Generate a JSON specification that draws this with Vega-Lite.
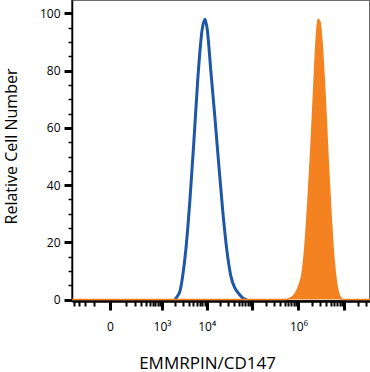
{
  "$schema": "https://vega.github.io/schema/vega-lite/v6.json",
  "width": 298,
  "height": 301,
  "autosize": "none",
  "padding": {"left": 72, "top": 0, "right": 0, "bottom": 71},
  "background": "white",
  "config": {
    "view": {"stroke": "#6b6b6b", "strokeWidth": 2},
    "font": "Open Sans",
    "axis": {"grid": false, "domainColor": "black", "tickColor": "black", "labelColor": "black", "titleColor": "black", "titleFontWeight": "normal", "labelFont": "Open Sans", "titleFont": "Open Sans", "tickOpacity": 1, "domainOpacity": 1}
  },
  "datasets": {
    "blue": [
      {"x": 1990, "y": 0}, {"x": 2210, "y": 1}, {"x": 2580, "y": 3}, {"x": 3010, "y": 9},
      {"x": 3510, "y": 18}, {"x": 4300, "y": 35}, {"x": 5280, "y": 56}, {"x": 6460, "y": 78},
      {"x": 7920, "y": 94}, {"x": 9210, "y": 98}, {"x": 10200, "y": 95}, {"x": 12500, "y": 79},
      {"x": 15300, "y": 63}, {"x": 18700, "y": 46}, {"x": 22800, "y": 30}, {"x": 27800, "y": 17},
      {"x": 34050, "y": 8}, {"x": 41600, "y": 4}, {"x": 50900, "y": 2}, {"x": 62200, "y": 0.5},
      {"x": 76000, "y": 0}
    ],
    "orange": [
      {"x": -456, "y": 0}, {"x": 509000, "y": 0}, {"x": 654700, "y": 0.5}, {"x": 841500, "y": 2},
      {"x": 1028000, "y": 5}, {"x": 1194000, "y": 9}, {"x": 1387000, "y": 19}, {"x": 1611000, "y": 35},
      {"x": 1875000, "y": 54}, {"x": 2178000, "y": 76}, {"x": 2405000, "y": 90}, {"x": 2661000, "y": 98},
      {"x": 2938000, "y": 97}, {"x": 3251000, "y": 90}, {"x": 3777000, "y": 72}, {"x": 4386000, "y": 50},
      {"x": 5094000, "y": 30}, {"x": 5930000, "y": 14}, {"x": 6888000, "y": 5}, {"x": 8000000, "y": 1},
      {"x": 9290000, "y": 0}, {"x": 35900000, "y": 0}
    ]
  },
  "encoding": {
    "x": {
      "field": "x", "type": "quantitative",
      "scale": {"type": "symlog", "constant": 80, "domain": [-456, 35900000], "nice": false},
      "axis": {
        "title": "EMMRPIN/CD147",
        "titleFontSize": 17,
        "titleX": 135, "titleY": 67, "titleBaseline": "alphabetic",
        "domainWidth": 2.5,
        "values": [-400, -300, -200, -100, 0, 100, 200, 300, 400, 500, 600, 700, 800, 900,
          1000, 2000, 3000, 4000, 5000, 6000, 7000, 8000, 9000,
          10000, 20000, 30000, 40000, 50000, 60000, 70000, 80000, 90000,
          100000, 200000, 300000, 400000, 500000, 600000, 700000, 800000, 900000,
          1000000, 2000000, 3000000, 4000000, 5000000, 6000000, 7000000, 8000000, 9000000,
          10000000, 20000000, 30000000],
        "labelExpr": "datum.value == 0 ? '0' : datum.value == 1000 ? '10³' : datum.value == 10000 ? '10⁴' : datum.value == 1000000 ? '10⁶' : ''",
        "labelFontSize": 12,
        "labelPadding": 11,
        "labelOverlap": false,
        "tickSize": {"condition": {"test": "datum.value == 0 || datum.value == 1000 || datum.value == 10000 || datum.value == 100000 || datum.value == 1000000 || datum.value == 10000000", "value": 9}, "value": 5},
        "tickWidth": {"condition": {"test": "datum.value == 0 || datum.value == 1000 || datum.value == 10000 || datum.value == 100000 || datum.value == 1000000 || datum.value == 10000000", "value": 3}, "value": 2}
      }
    },
    "y": {
      "field": "y", "type": "quantitative",
      "scale": {"domain": [-0.5, 104.7], "nice": false, "zero": false},
      "axis": {
        "title": "Relative Cell Number",
        "titleFontSize": 16,
        "titleX": -56, "titleY": 146, "titleAngle": -90, "titleBaseline": "alphabetic",
        "domainWidth": 1.5,
        "values": [0, 5, 10, 15, 20, 25, 30, 35, 40, 45, 50, 55, 60, 65, 70, 75, 80, 85, 90, 95, 100],
        "labelExpr": "datum.value % 20 == 0 ? datum.label : ''",
        "labelFontSize": 12,
        "labelPadding": 4,
        "tickSize": {"condition": {"test": "datum.value % 20 == 0", "value": 8}, "value": 4},
        "tickWidth": {"condition": {"test": "datum.value % 20 == 0", "value": 3}, "value": 1.5}
      }
    }
  },
  "layer": [
    {
      "data": {"name": "blue"},
      "mark": {"type": "line", "color": "#1e56a8", "strokeWidth": 3, "interpolate": "monotone"}
    },
    {
      "data": {"name": "orange"},
      "mark": {"type": "area", "color": "#f58220", "opacity": 1, "fillOpacity": 1, "interpolate": "monotone", "line": {"color": "#f58220", "strokeWidth": 1.5}}
    }
  ]
}
